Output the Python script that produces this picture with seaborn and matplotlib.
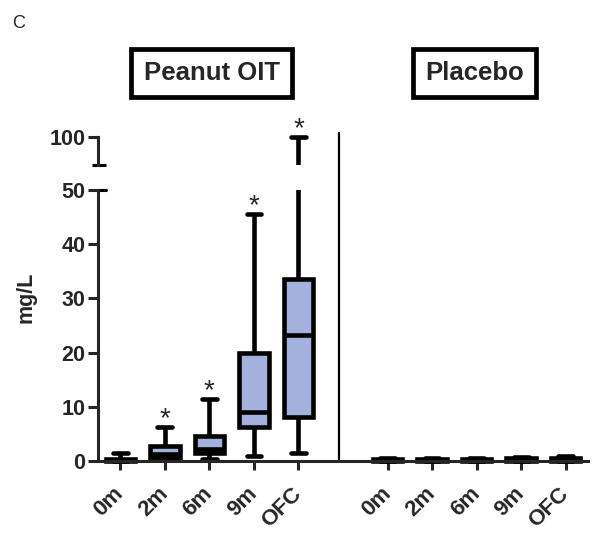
import matplotlib

matplotlib.use("Agg")
import matplotlib.pyplot as plt
import matplotlib.transforms as mtransforms
import pandas as pd
import seaborn as sns

TIMEPOINTS = ["0m", "2m", "6m", "9m", "OFC"]
GROUPS = ["Peanut OIT", "Placebo"]

# Five-number summaries (mg/L).
OIT_MIN = [0.0, 0.2, 0.4, 0.9, 1.4]
OIT_Q1 = [0.05, 0.5, 1.4, 6.3, 8.2]
OIT_MED = [0.2, 1.2, 2.3, 9.0, 23.3]
OIT_Q3 = [0.45, 2.8, 4.7, 19.9, 33.5]
OIT_MAX = [1.5, 6.3, 11.5, 45.6, 100.0]

PLACEBO_MIN = [0.0, 0.0, 0.0, 0.0, 0.0]
PLACEBO_Q1 = [0.05, 0.05, 0.05, 0.05, 0.05]
PLACEBO_MED = [0.15, 0.15, 0.15, 0.2, 0.25]
PLACEBO_Q3 = [0.3, 0.3, 0.35, 0.5, 0.6]
PLACEBO_MAX = [0.5, 0.5, 0.5, 0.8, 0.9]

OIT_STARS = [False, True, True, True, True]
PLACEBO_STARS = [False, False, False, False, False]

BOX_COLOR = "#a3b1dc"
FONT = "Liberation Sans"


def long_table() -> pd.DataFrame:
    summaries = [
        (OIT_MIN, OIT_Q1, OIT_MED, OIT_Q3, OIT_MAX),
        (PLACEBO_MIN, PLACEBO_Q1, PLACEBO_MED, PLACEBO_Q3, PLACEBO_MAX),
    ]
    rows = []
    for g, stats in enumerate(summaries):
        for t, name in enumerate(TIMEPOINTS):
            # one empty slot between the two groups
            slot = g * (len(TIMEPOINTS) + 1) + t
            for values in stats:
                rows.append({"group": GROUPS[g], "time": name, "slot": slot, "mgL": values[t]})
    return pd.DataFrame(rows)


def draw_boxes(ax, df):
    sns.boxplot(
        data=df,
        x="slot",
        y="mgL",
        native_scale=True,
        whis=(0, 100),
        width=0.66,
        color=BOX_COLOR,
        saturation=1,
        linecolor="black",
        linewidth=3.3,
        fliersize=0,
        ax=ax,
    )


def main() -> None:
    sns.set_style("ticks")
    plt.rcParams["font.family"] = [FONT, "DejaVu Sans"]

    df = long_table()
    slots = sorted(df["slot"].unique())

    fig = plt.figure(figsize=(6.0, 5.39), dpi=100)
    ax = fig.add_axes([98 / 600, 1 - 466.4 / 539, 490 / 600, 276.4 / 539])
    ax_top = fig.add_axes([98 / 600, 1 - 164.6 / 539, 490 / 600, 29.8 / 539])

    draw_boxes(ax, df)
    draw_boxes(ax_top, df)

    for a in (ax, ax_top):
        a.set_xlim(-0.5, 10.5)
        a.set_xlabel("")
        a.set_ylabel("")
        a.spines["right"].set_visible(False)
        a.spines["top"].set_visible(False)
        a.spines["left"].set_linewidth(2.2)
        a.tick_params(axis="y", length=7, width=2.2, pad=2, labelsize=15.5)

    # lower segment 0-50
    ax.set_ylim(-1, 50)
    ax.spines["bottom"].set_position(("data", 0))
    ax.spines["bottom"].set_linewidth(2.2)
    ax.spines["left"].set_bounds(0, 50)
    ax.set_yticks([0, 10, 20, 30, 40, 50])
    ax.set_yticklabels(["0", "10", "20", "30", "40", "50"], fontweight="bold", fontsize=15.5)
    ax.set_xticks(slots)
    ax.set_xticklabels(TIMEPOINTS * 2, rotation=45, ha="right", va="center",
                       rotation_mode="anchor", fontweight="bold", fontsize=16)
    ax.tick_params(axis="x", length=6.5, width=2.2, pad=15)

    # upper segment holding 100
    ax_top.set_ylim(94.9, 100.4)
    ax_top.spines["left"].set_bounds(94.9, 100)
    ax_top.spines["bottom"].set_visible(False)
    ax_top.set_yticks([100])
    ax_top.set_yticklabels(["100"], fontweight="bold", fontsize=15.5)
    ax_top.set_xticks([])
    ax_top.patch.set_alpha(0)

    # break marks on the axis
    trans = mtransforms.blended_transform_factory(ax.transAxes, ax.transData)
    ax.plot([0, 0.016], [50, 50], transform=trans, color="black", lw=2.2, clip_on=False)
    trans_t = mtransforms.blended_transform_factory(ax_top.transAxes, ax_top.transData)
    ax_top.plot([-0.012, 0.016], [94.9, 94.9], transform=trans_t, color="black",
                lw=2.2, clip_on=False, solid_capstyle="butt")

    # divider between the two groups
    ax.axvline(4.9, ymin=5.4 / 276.4, ymax=(466.4 - 133) / 276.4, color="black",
               lw=1.6, clip_on=False)

    # significance stars
    all_stars = OIT_STARS + PLACEBO_STARS
    all_max = OIT_MAX + PLACEBO_MAX
    for slot, star, top in zip(slots, all_stars, all_max):
        if not star:
            continue
        target = ax_top if top > 50 else ax
        target.annotate("*", xy=(slot, top), xytext=(0, 0.5), textcoords="offset points",
                        ha="center", va="baseline", fontsize=20, annotation_clip=False)

    # group headers
    head_trans = mtransforms.blended_transform_factory(ax.transData, fig.transFigure)
    for center, name in zip([2.05, 7.95], GROUPS):
        ax.text(center, 1 - 73 / 539, name, transform=head_trans, ha="center", va="center",
                fontsize=18.5, fontweight="bold",
                bbox=dict(boxstyle="square,pad=0.48", fc="white", ec="black", lw=3.4))

    fig.text(26 / 600, 1 - 297 / 539, "mg/L", rotation=90, ha="center", va="center",
             fontsize=15.5, fontweight="bold")
    fig.text(12 / 600, 1 - 24 / 539, "C", ha="left", va="center", fontsize=13)

    fig.savefig("out.png", dpi=100)
    plt.close(fig)


if __name__ == "__main__":
    main()
